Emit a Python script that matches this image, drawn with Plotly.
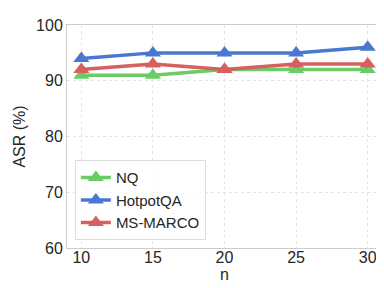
import plotly.graph_objects as go

n_values = [10, 15, 20, 25, 30]
nq = [91, 91, 92, 92, 92]
hotpotqa = [94, 95, 95, 95, 96]
msmarco = [92, 93, 92, 93, 93]

series = [
    ("NQ", nq, "#6acc64"),
    ("HotpotQA", hotpotqa, "#4878d0"),
    ("MS-MARCO", msmarco, "#d65f5f"),
]

fig = go.Figure()
for name, vals, color in series:
    fig.add_trace(go.Scatter(
        x=n_values, y=vals, name=name, mode="lines+markers",
        line=dict(color=color, width=3.5),
        marker=dict(symbol="triangle-up", size=14, color=color),
    ))

font = "Liberation Sans, Arial, sans-serif"
fig.update_layout(
    width=384, height=288,
    margin=dict(l=59, r=9, t=15, b=48),
    paper_bgcolor="white", plot_bgcolor="white",
    font=dict(family=font, size=16, color="#262626"),
    showlegend=True,
    legend=dict(
        x=0.025, y=0.035, xanchor="left", yanchor="bottom",
        bordercolor="#dddddd", borderwidth=1, bgcolor="rgba(255,255,255,0.8)",
        font=dict(size=15, color="#262626"),
        itemwidth=30, tracegroupgap=0,
    ),
    xaxis=dict(
        title=dict(text="n", standoff=0, font=dict(size=16)),
        range=[9.0, 31.0], tickvals=n_values,
        showgrid=True, gridcolor="#e5e5e5", griddash="dot", gridwidth=1,
        showline=True, linecolor="#cccccc", linewidth=1, mirror=True,
        zeroline=False, ticks="", tickfont=dict(size=16),
        ticklabelstandoff=-5,
    ),
    yaxis=dict(
        title=dict(text="ASR (%)", standoff=6, font=dict(size=16)),
        range=[60, 100], tickvals=[60, 70, 80, 90, 100],
        showgrid=True, gridcolor="#e5e5e5", griddash="dot", gridwidth=1,
        showline=True, linecolor="#cccccc", linewidth=1, mirror=True,
        zeroline=False, ticks="", tickfont=dict(size=16),
    ),
)

fig.write_html("out.html")
